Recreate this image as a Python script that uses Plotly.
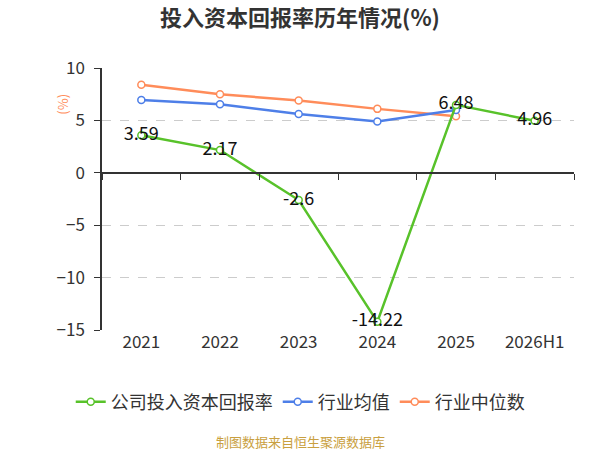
import plotly.graph_objects as go

# data
years = ["2021", "2022", "2023", "2024", "2025", "2026H1"]
company_roic = [3.59, 2.17, -2.6, -14.22, 6.48, 4.96]
industry_mean = [6.95, 6.55, 5.6, 4.9, 6.0, None]
industry_median = [8.4, 7.5, 6.9, 6.1, 5.4, None]

green = "#58c22a"
blue = "#4e7fe8"
orange = "#ff8c5a"
font_family = "Noto Sans CJK SC"

fig = go.Figure()

fig.add_trace(go.Scatter(
    x=years, y=industry_median, name="行业中位数", mode="lines+markers", legendrank=3,
    line=dict(color=orange, width=2.5),
    marker=dict(symbol="circle", size=7, color="white", line=dict(color=orange, width=1.5)),
))
fig.add_trace(go.Scatter(
    x=years, y=industry_mean, name="行业均值", mode="lines+markers", legendrank=2,
    line=dict(color=blue, width=2.5),
    marker=dict(symbol="circle", size=7, color="white", line=dict(color=blue, width=1.5)),
))
fig.add_trace(go.Scatter(
    x=years, y=company_roic, name="公司投入资本回报率", mode="lines+markers+text", legendrank=1,
    line=dict(color=green, width=2.5),
    marker=dict(symbol="circle", size=7, color="white", line=dict(color=green, width=1.5)),
    text=[f"{v:g}" for v in company_roic], textposition="middle center",
    textfont=dict(size=18, color="#111", family=font_family),
))
# invisible trace so the zero-line axis with ticks gets drawn
fig.add_trace(go.Scatter(x=years, y=[0] * len(years), xaxis="x2", mode="none",
                         showlegend=False, hoverinfo="skip"))

fig.update_layout(
    width=600, height=450,
    margin=dict(l=102, r=26, t=68, b=120),
    paper_bgcolor="white", plot_bgcolor="white",
    font=dict(family=font_family, color="#333", size=17),
    title=dict(text="<b>投入资本回报率历年情况(%)</b>", x=0.5, xanchor="center",
               y=0.96, yanchor="middle", font=dict(size=22, color="#333")),
    showlegend=True,
    legend=dict(orientation="h", x=0.42, xanchor="center", y=-0.275, yanchor="middle",
                font=dict(size=18, color="#333"), traceorder="normal"),
    xaxis=dict(type="category", range=[-0.5, 5.5], showline=False, ticks="", showgrid=False,
               tickfont=dict(size=17, color="#333")),
    xaxis2=dict(type="category", overlaying="x", matches="x", anchor="free", position=0.6,
                showline=True, linecolor="#333", linewidth=1.5,
                ticks="outside", tickson="boundaries", ticklen=6, tickcolor="#333",
                showticklabels=False, showgrid=False),
    yaxis=dict(range=[-15, 10], tickvals=[-15, -10, -5, 0, 5, 10],
               showline=True, linecolor="#333", linewidth=1.5,
               ticks="outside", ticklen=6, tickcolor="#333", ticklabelstandoff=6,
               showgrid=True, gridcolor="#cccccc", griddash="dash", gridwidth=1,
               zeroline=False, tickfont=dict(size=17, color="#333")),
    annotations=[
        dict(text="(%)", xref="paper", yref="paper", x=-0.11, y=0.91, textangle=-90,
             showarrow=False, font=dict(size=13, color=orange)),
        dict(text="制图数据来自恒生聚源数据库", xref="paper", yref="paper", x=0.42, y=-0.424,
             xanchor="center", yanchor="middle", showarrow=False,
             font=dict(size=13, color="#c9a040")),
    ],
)

fig.write_html("out.html", config={"displayModeBar": False},
               post_script="document.body.style.margin='0';")
